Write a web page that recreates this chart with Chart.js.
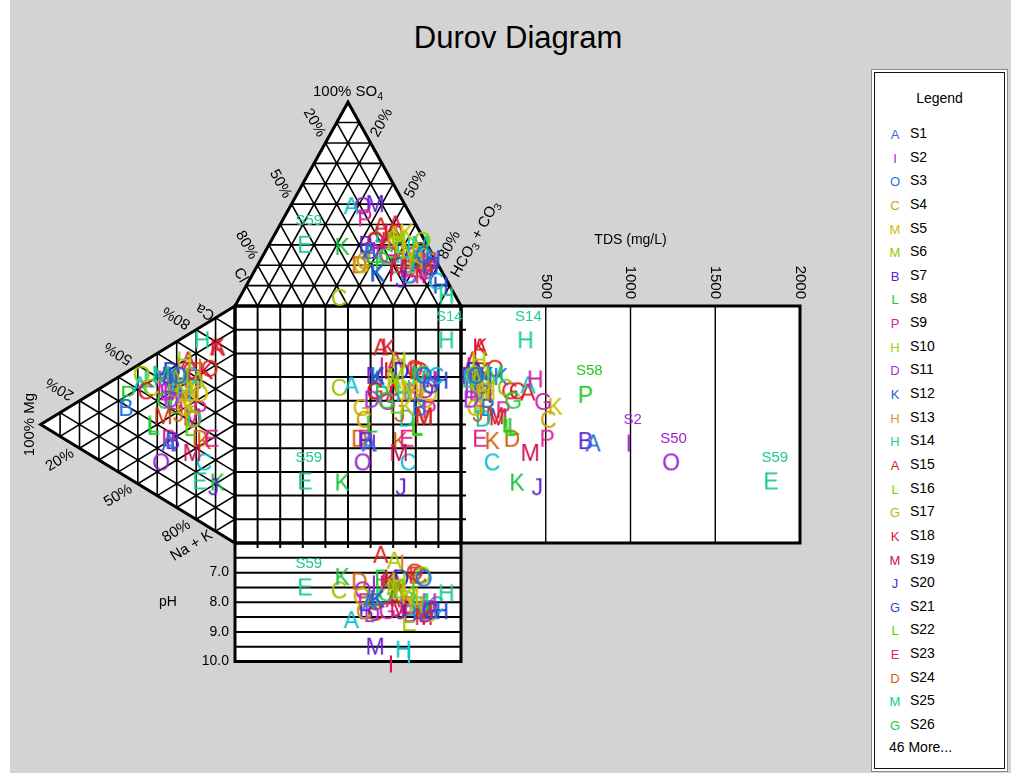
<!DOCTYPE html>
<html>
<head>
<meta charset="utf-8">
<title>Durov Diagram</title>
<script src="https://cdn.jsdelivr.net/npm/chart.js@4.4.1/dist/chart.umd.min.js"></script>
<style>
  body { margin: 0; background: #fff; font-family: "Liberation Sans", Arial, sans-serif; }
  #bg { position: absolute; left: 10px; top: 0; width: 1001px; height: 773px; background: #d3d3d3; }
  #title { position: absolute; left: 25px; top: 19px; width: 986px; text-align: center; font-size: 31px; line-height: 38px; color: #000; }
  #plot { position: absolute; left: 10px; top: 0; width: 860px; height: 773px; }
  #legend { position: absolute; left: 871px; top: 69px; width: 137px; height: 703px; box-sizing: border-box;
            background: #fff; border: 1px solid #888; box-shadow: inset 0 0 0 2px #fff, inset 0 0 0 3px #111; font-size: 14px; }
  #legend div { position: absolute; height: 18px; line-height: 18px; white-space: nowrap; }
  #legend .mark { width: 16px; text-align: center; font-size: 13px; }
</style>
</head>
<body>
<div id="bg"></div>
<div id="title">Durov Diagram</div>
<div id="plot"><canvas id="chart" width="860" height="773"></canvas></div>
<div id="legend"></div>
<script>
// samples S1..S72 : plotting letter + colour
const sampleLetters = ["A","I","O","C","M","M","B","L","P","H","D","K","H","H","A","L","G","K","M","J","G","L","E","D","M","G",
  "C","G","H","K","J","D","M","B","P","C","K","K","C","A","L","O","C","H","D","M","I","H","I","O","E","A","I","I","K","O",
  "L","P","E","B","D","G","A","O","E","M","C","K","L","G","H","A"];
const sampleColors = ["#2b6fd6","#a02ad0","#1f6fe0","#c9a200","#c8c000","#98c800","#5a24d0","#22c822","#e0209a","#a8d000",
  "#a030e0","#1a5fd0","#d0a020","#1ecf8e","#e02020","#80d000","#d0b000","#e0103a","#d01050","#6020d0",
  "#2050e0","#50d000","#e0208a","#d06010","#10d080","#20d040","#d02020","#d020b0","#d020a0","#c8c000",
  "#d06010","#10c8a8","#d03010","#1f6fe0","#e0209a","#10c0d0","#20c040","#d06010","#98c800","#10c0c8",
  "#20c040","#98c800","#10b8d8","#1f4fe0","#2030d0","#6a20d0","#e01050","#10c0d0","#10c8d0","#9a20d0",
  "#a8c800","#a8c800","#d08010","#d020a0","#d01040","#e03010","#10c8a0","#22c822","#1ec88e","#c020c0",
  "#c020c0","#e02020","#e02020","#d8c000","#e03030","#d01050","#d02020","#1f6fe0","#50d000","#c8a000",
  "#2040d0","#e01040"];
const sampleNames = sampleLetters.map((_, i) => "S" + (i + 1));

// anions (% meq)
const so4 = [27,27,25,22,27,32,30,25,43,33, 27,16,22,5,39,30,20,32,19,13, 19,25,18,20,30,24,32,25,22,36,
  22,20,19,23,18,15,29,24,4,49, 27,32,12,23,27,50,16,25,30,49, 20,35,32,30,36,25,35,22,30,15,
  17,32,36,22,18,15,27,16,20,24, 10,40];
const hco3 = [46,48,71,46,64,55,43,48,36,56, 47,55,69,91,45,58,46,52,63,67, 77,68,67,45,67,55,46,55,75,58,
  62,66,74,70,77,69,33,61,44,27, 67,67,83,76,60,37,61,62,62,32, 67,53,58,50,51,67,47,54,16,70,
  76,46,52,75,71,76,68,55,61,72, 86,51];
const cl = [27,25,4,32,9,13,27,27,21,11, 26,29,9,4,16,12,34,16,18,20, 4,7,15,35,3,21,22,20,3,6,
  16,14,7,7,5,16,38,15,52,24, 6,1,5,1,13,13,23,13,8,19, 13,12,10,20,13,8,18,24,54,15,
  7,22,12,3,11,9,5,29,19,4, 4,9];
// cations (% meq)
const ca = [25,26,56,41,52,56,27,29,27,64, 44,55,53,77,78,51,44,78,27,18, 51,37,38,35,52,42,41,44,51,46,
  40,42,35,29,47,26,21,35,44,42, 28,47,59,55,56,54,43,50,49,15, 50,59,65,60,65,67,47,35,17,46,
  48,51,49,54,62,42,61,51,42,49, 58,65];
const mg = [34,32,29,22,26,28,32,42,34,26, 33,31,22,17,9,32,26,9,22,11, 31,23,12,18,38,36,46,31,36,23,
  29,21,37,56,18,16,9,16,43,49, 42,48,23,28,33,33,39,26,32,38, 28,19,18,29,15,13,44,55,18,35,
  33,26,29,18,21,22,23,38,32,23, 21,24];
const na = [41,42,15,37,22,16,41,29,39,10, 23,14,25,6,13,17,30,13,51,71, 18,40,50,47,10,22,13,25,13,31,
  31,37,28,15,35,58,70,49,13,9, 30,5,18,17,11,13,18,24,19,47, 22,22,17,11,20,20,9,10,65,19,
  19,23,22,28,17,36,16,11,26,28, 21,11];
const tds = [780,990,90,515,150,120,735,278,509,105, 60,150,130,380,112,90,85,112,408,450,
  120,290,112,300,200,308,330,485,438,556, 100,130,200,160,250,183,331,185,260,396,
  310,80,60,140,75,55,170,140,100,1240, 160,95,80,45,130,200,40,735,1830,90,
  65,290,395,120,70,220,110,235,105,150, 90,70];
const ph = [8.0,7.4,7.2,8.3,7.8,7.5,8.3,7.9,8.0,7.3, 8.4,7.9,8.1,7.7,6.4,7.6,7.8,7.3,8.2,8.3,
  8.3,7.6,8.1,7.3,8.0,7.7,8.35,8.3,8.0,7.8, 8.3,7.9,8.3,8.3,8.3,8.2,7.15,7.6,7.6,8.6,
  8.0,7.1,8.1,8.3,7.2,9.5,10.1,9.6,9.8,7.6, 8.7,6.6,6.7,7.4,7.2,7.0,7.8,7.2,7.5,8.4,
  8.4,8.0,7.9,8.4,7.1,8.5,7.1,7.9,7.7,8.4, 8.3,7.3];

const tdsTicks = [500, 1000, 1500, 2000];
const phTicks = [7, 8, 9, 10];
const pctTicks = [20, 50, 80];
// samples named next to their mark, per panel: top, left, square, tds, ph
const namedTop = ["S59"];
const namedLeft = [];
const namedSquare = ["S59", "S14"];
const namedTds = ["S59", "S14", "S58", "S2", "S50"];
const namedPh = ["S59"];
const LEGEND_ROWS = 26;

// layout in diagram units: square is 100 x 100
const TRI_H = 86, TRI_W = 86, TDS_W = 150, TDS_MAX = 2000, PH_H = 50, PH_MIN = 6, PH_MAX = 10;
const PX_U = 2.26, PX_V = 2.37, ORG_X = 225, ORG_Y = 306;
const FONT = '"Liberation Sans", Arial, sans-serif';

function samplePoints(i) {
  const at = so4[i] + hco3[i] + cl[i];
  const s = so4[i] / at, h = hco3[i] / at;
  const ct = ca[i] + mg[i] + na[i];
  const m = mg[i] / ct, n = na[i] / ct;
  const u = 100 * (h + s / 2);
  const v = 100 * (n + m / 2);
  return [
    { x: u, y: -TRI_H * s },
    { x: -TRI_W * m, y: v },
    { x: u, y: v },
    { x: 100 + TDS_W * tds[i] / TDS_MAX, y: v },
    { x: u, y: 100 + PH_H * (ph[i] - PH_MIN) / (PH_MAX - PH_MIN) }
  ];
}

function letterMark(letter, color) {
  const c = document.createElement("canvas");
  c.width = 30; c.height = 30;
  const g = c.getContext("2d");
  g.font = "23px " + FONT;
  g.fillStyle = color;
  g.textAlign = "center";
  g.textBaseline = "alphabetic";
  g.fillText(letter, 15, 23.2);
  return c;
}

const datasets = sampleLetters.map((l, i) => ({
  label: sampleNames[i],
  data: samplePoints(i),
  pointStyle: letterMark(l, sampleColors[i]),
  pointRadius: 6,
  showLine: false
}));

function norm(a, b) {
  const dx = b[0] - a[0], dy = b[1] - a[1], d = Math.hypot(dx, dy);
  return [dx / d, dy / d];
}
function txt(ctx, str, x, y, rot, align, size) {
  ctx.save();
  ctx.translate(x, y);
  ctx.rotate(rot);
  ctx.font = size + "px " + FONT;
  ctx.textAlign = align;
  ctx.textBaseline = "middle";
  ctx.fillText(str, 0, 0);
  ctx.restore();
}
// text with subscripts, centred on x,y
function subTxt(ctx, parts, x, y, rot, size) {
  ctx.save();
  ctx.translate(x, y);
  ctx.rotate(rot);
  ctx.textBaseline = "middle";
  ctx.textAlign = "left";
  let w = 0;
  parts.forEach(p => { ctx.font = (p[1] ? size * 0.7 : size) + "px " + FONT; w += ctx.measureText(p[0]).width; });
  let cx = -w / 2;
  parts.forEach(p => {
    ctx.font = (p[1] ? size * 0.7 : size) + "px " + FONT;
    ctx.fillText(p[0], cx, p[1] ? size * 0.3 : 0);
    cx += ctx.measureText(p[0]).width;
  });
  ctx.restore();
}

const frame = {
  id: "durovFrame",
  beforeDatasetsDraw(chart) {
    const ctx = chart.ctx, sx = chart.scales.x, sy = chart.scales.y;
    const P = (u, v) => [sx.getPixelForValue(u), sy.getPixelForValue(v)];
    const tri = (h, s) => P(100 * (h + s / 2), -TRI_H * s);
    const lt = (m, n) => P(-TRI_W * m, 100 * (n + m / 2));
    const tdsU = t => 100 + TDS_W * t / TDS_MAX;
    const phV = p => 100 + PH_H * (p - PH_MIN) / (PH_MAX - PH_MIN);
    const poly = pts => { ctx.beginPath(); pts.forEach((p, k) => k ? ctx.lineTo(p[0], p[1]) : ctx.moveTo(p[0], p[1])); ctx.closePath(); };
    const seg = (a, b) => { ctx.moveTo(a[0], a[1]); ctx.lineTo(b[0], b[1]); };

    const topPts = [tri(0, 0), tri(1, 0), tri(0, 1)];
    const leftPts = [lt(0, 0), lt(1, 0), lt(0, 1)];
    const sqPts = [P(0, 0), P(100, 0), P(100, 100), P(0, 100)];
    const tdsPts = [P(100, 0), P(tdsU(TDS_MAX), 0), P(tdsU(TDS_MAX), 100), P(100, 100)];
    const phPts = [P(0, 100), P(100, 100), P(100, phV(PH_MAX)), P(0, phV(PH_MAX))];

    ctx.save();
    ctx.fillStyle = "#fff";
    [topPts, leftPts, sqPts, tdsPts, phPts].forEach(p => { poly(p); ctx.fill(); });

    ctx.strokeStyle = "#000";
    // triangle grids
    ctx.lineWidth = 1.6;
    ctx.beginPath();
    for (let k = 1; k < 10; k++) {
      const f = k / 10;
      seg(tri(0, f), tri(1 - f, f));
      seg(tri(f, 0), tri(f, 1 - f));
      seg(tri(1 - f, 0), tri(0, 1 - f));
      seg(lt(1 - f, 0), lt(0, 1 - f));
      seg(lt(f, 0), lt(f, 1 - f));
      seg(lt(0, f), lt(1 - f, f));
    }
    ctx.stroke();
    // square grid + small ticks into tds / ph boxes
    ctx.lineWidth = 2;
    ctx.beginPath();
    for (let k = 1; k < 10; k++) {
      seg(P(10 * k, 0), P(10 * k, 100));
      seg(P(0, 10 * k), P(100, 10 * k));
      const a = P(100, 10 * k); seg(a, [a[0] + 5, a[1]]);
      const b = P(10 * k, 100); seg(b, [b[0], b[1] + 5]);
    }
    for (let p = PH_MIN + 0.5; p < PH_MAX; p += 0.5) seg(P(0, phV(p)), P(100, phV(p)));
    ctx.stroke();
    ctx.lineWidth = 1.4;
    ctx.beginPath();
    tdsTicks.slice(0, -1).forEach(t => seg(P(tdsU(t), 0), P(tdsU(t), 100)));
    ctx.stroke();

    ctx.lineWidth = 3;
    ctx.lineJoin = "miter";
    [topPts, leftPts, sqPts, tdsPts, phPts].forEach(p => { poly(p); ctx.stroke(); });

    // labels
    ctx.fillStyle = "#000";
    const T = topPts[2], L = topPts[0], R = topPts[1];
    const dR = norm(T, R), dL = norm(T, L);
    const angR = Math.atan2(dR[1], dR[0]), angL = Math.atan2(dL[1], dL[0]);
    pctTicks.forEach(p => {
      const f = p / 100;
      const a = tri(0, 1 - f);
      txt(ctx, p + "%", a[0] - dR[0] * 23, a[1] - dR[1] * 23, angR, "center", 15);
      const b = tri(f, 1 - f);
      txt(ctx, p + "%", b[0] - dL[0] * 23, b[1] - dL[1] * 23, angL - Math.PI, "center", 15);
    });
    const clp = tri(0, 0.1);
    txt(ctx, "Cl", clp[0] - dR[0] * 12, clp[1] - dR[1] * 12, angR, "center", 15);
    const hp = tri(0.9, 0.1);
    subTxt(ctx, [["HCO", 0], ["3", 1], [" + CO", 0], ["3", 1]], hp[0] - dL[0] * 53, hp[1] - dL[1] * 53, angL - Math.PI, 15);
    subTxt(ctx, [["100% SO", 0], ["4", 1]], T[0], T[1] - 10, 0, 15);

    const A = leftPts[1], C = leftPts[0], N = leftPts[2];
    const dLow = norm(A, N), dUp = norm(A, C);
    const angLow = Math.atan2(dLow[1], dLow[0]), angUp = Math.atan2(dUp[1], dUp[0]);
    pctTicks.forEach(p => {
      const f = p / 100;
      const a = lt(1 - f, 0);
      txt(ctx, p + "%", a[0] - dLow[0] * 23, a[1] - dLow[1] * 23, angLow + Math.PI, "center", 15);
      const b = lt(1 - f, f);
      txt(ctx, p + "%", b[0] - dUp[0] * 23, b[1] - dUp[1] * 23, angUp, "center", 15);
    });
    const cap = lt(0.1, 0);
    txt(ctx, "Ca", cap[0] - dLow[0] * 12, cap[1] - dLow[1] * 12, angLow + Math.PI, "center", 15);
    const nap = lt(0.1, 0.9);
    txt(ctx, "Na + K", nap[0] - dUp[0] * 28, nap[1] - dUp[1] * 28, angUp, "center", 15);
    txt(ctx, "100% Mg", A[0] - 11, A[1], -Math.PI / 2, "center", 15);

    tdsTicks.forEach(t => {
      const a = P(tdsU(t), 0);
      txt(ctx, String(t), a[0], a[1] - 7, Math.PI / 2, "right", 15);
    });
    const tt = P(tdsU(TDS_MAX / 2), 0);
    txt(ctx, "TDS (mg/L)", tt[0], tt[1] - 66, 0, "center", 14);

    phTicks.forEach(p => {
      const a = P(0, phV(p));
      txt(ctx, p.toFixed(1), a[0] - 6, a[1], 0, "right", 14);
    });
    const pp = P(0, phV(8));
    txt(ctx, "pH", pp[0] - 67, pp[1], 0, "center", 14);
    ctx.restore();
  }
};

const sampleTags = {
  id: "sampleTags",
  afterDatasetsDraw(chart) {
    const ctx = chart.ctx;
    ctx.save();
    ctx.textBaseline = "middle";
    ctx.textAlign = "left";
    [namedTop, namedLeft, namedSquare, namedTds, namedPh].forEach((list, k) => {
      list.forEach(name => {
        const i = sampleNames.indexOf(name);
        const pt = chart.getDatasetMeta(i).data[k];
        ctx.font = "23px " + FONT;
        const w = ctx.measureText(sampleLetters[i]).width;
        ctx.font = "15px " + FONT;
        ctx.fillStyle = sampleColors[i];
        ctx.fillText(name, pt.x - w / 2 - 2, pt.y - 24);
      });
    });
    ctx.restore();
  }
};

new Chart(document.getElementById("chart"), {
  type: "scatter",
  data: { datasets },
  options: {
    responsive: false,
    animation: false,
    devicePixelRatio: 1,
    events: [],
    layout: { padding: 0, autoPadding: false },
    plugins: { legend: { display: false }, tooltip: { enabled: false }, title: { display: false } },
    scales: {
      x: { type: "linear", display: false, min: -ORG_X / PX_U, max: (860 - ORG_X) / PX_U },
      y: { type: "linear", display: false, reverse: true, min: -ORG_Y / PX_V, max: (773 - ORG_Y) / PX_V }
    }
  },
  plugins: [frame, sampleTags]
});

// legend box
const lg = document.getElementById("legend");
function addDiv(html, left, centerY, cls, color) {
  const d = document.createElement("div");
  d.textContent = html;
  d.style.left = left + "px";
  d.style.top = (centerY - 70 - 9) + "px";
  if (cls) d.className = cls;
  if (color) d.style.color = color;
  lg.appendChild(d);
  return d;
}
const head = addDiv("Legend", 0, 98);
head.style.width = "100%";
head.style.textAlign = "center";
for (let i = 0; i < LEGEND_ROWS; i++) {
  const y = 133 + i * 23.64;
  addDiv(sampleLetters[i], 15, y + 2, "mark", sampleColors[i]);
  addDiv(sampleNames[i], 38, y);
}
addDiv((sampleNames.length - LEGEND_ROWS) + " More...", 17, 747);
</script>
</body>
</html>
